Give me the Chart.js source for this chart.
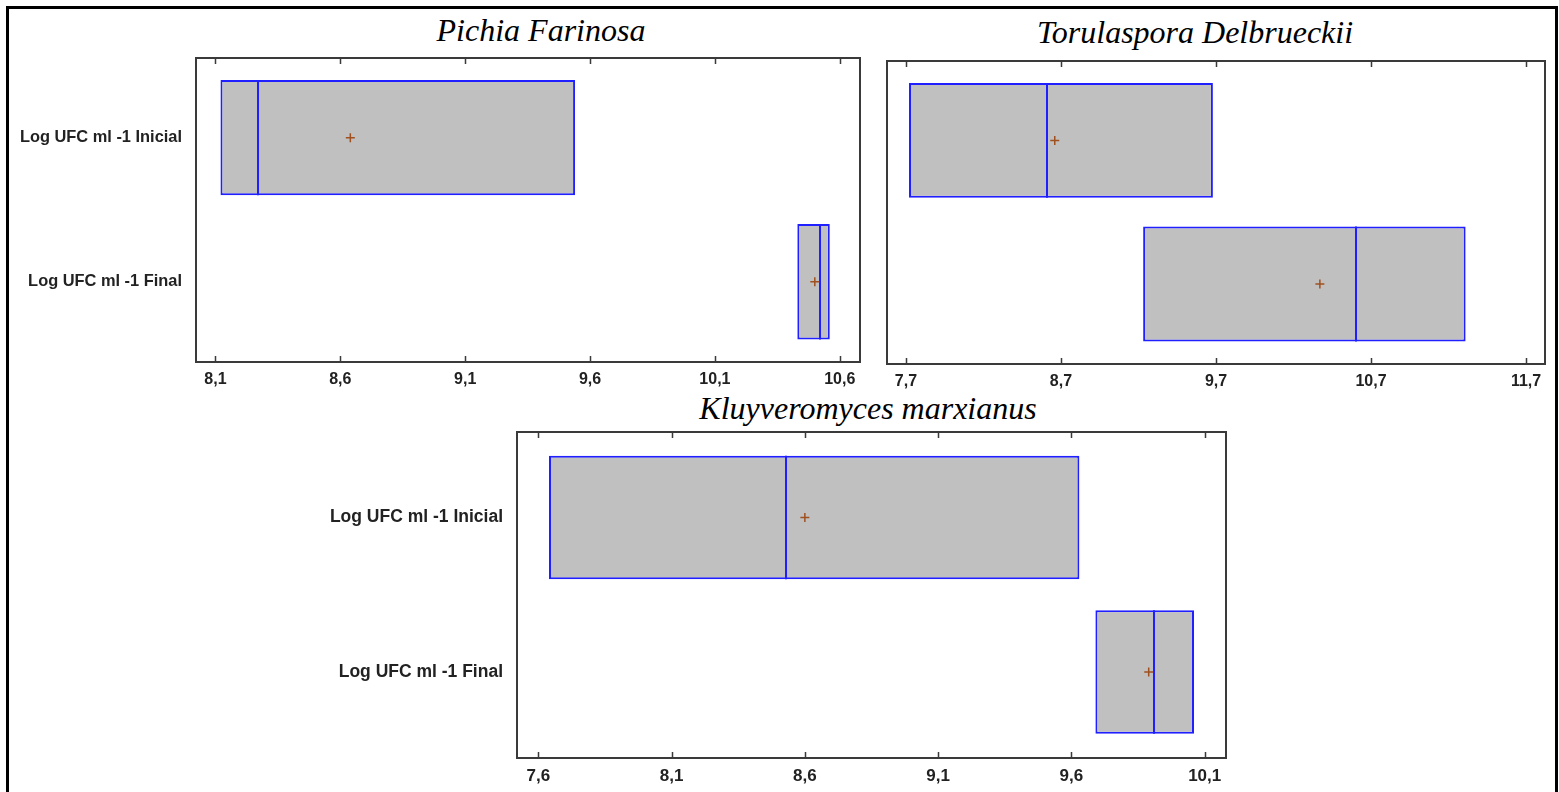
<!DOCTYPE html>
<html>
<head>
<meta charset="utf-8">
<title>Log UFC ml -1 — Inicial vs Final</title>
<script src="https://cdn.jsdelivr.net/npm/chart.js@4.4.1/dist/chart.umd.min.js"></script>
<style>
  html, body { margin: 0; padding: 0; background: #fff; }
  body { width: 1559px; height: 792px; position: relative; overflow: hidden; }
  .frame { position: absolute; left: 6px; top: 6px; width: 1552px; height: 820px;
           border: 3px solid #000; box-sizing: border-box; }
  .ttl { position: absolute; transform: translateX(-50%); white-space: nowrap;
         font-family: "Liberation Serif", "Times New Roman", serif; font-style: italic;
         font-size: 32px; line-height: 32px; color: #000; }
  canvas { position: absolute; }
</style>
</head>
<body>
<div class="frame"></div>
<div class="ttl" id="t1" style="left:541px; top:14px;">Pichia Farinosa</div>
<div class="ttl" id="t2" style="left:1195px; top:16px;">Torulaspora Delbrueckii</div>
<div class="ttl" id="t3" style="left:868px; top:392px;">Kluyveromyces marxianus</div>
<canvas id="c1"></canvas>
<canvas id="c2"></canvas>
<canvas id="c3"></canvas>
<script>
// Row labels (same two rows in every panel)
const rowLabels = ['Log UFC ml -1 Inicial', 'Log UFC ml -1 Final'];

// Pichia Farinosa: box (Q1, median, Q3) and mean per row
const pichiaQ1     = [8.12, 10.43];
const pichiaMedian = [8.27, 10.52];
const pichiaQ3     = [9.54, 10.56];
const pichiaMean   = [8.64, 10.50];
const pichiaTicks  = [8.1, 8.6, 9.1, 9.6, 10.1, 10.6];
const pichiaTickLabels = ['8,1', '8,6', '9,1', '9,6', '10,1', '10,6'];

// Torulaspora Delbrueckii
const torulaQ1     = [7.72, 9.23];
const torulaMedian = [8.61, 10.60];
const torulaQ3     = [9.68, 11.31];
const torulaMean   = [8.66, 10.37];
const torulaTicks  = [7.7, 8.7, 9.7, 10.7, 11.7];
const torulaTickLabels = ['7,7', '8,7', '9,7', '10,7', '11,7'];

// Kluyveromyces marxianus
const kluyQ1     = [7.64, 9.69];
const kluyMedian = [8.53, 9.91];
const kluyQ3     = [9.63, 10.06];
const kluyMean   = [8.60, 9.89];
const kluyTicks  = [7.6, 8.1, 8.6, 9.1, 9.6, 10.1];
const kluyTickLabels = ['7,6', '8,1', '8,6', '9,1', '9,6', '10,1'];

const BOX_FILL = '#c0c0c0';
const BOX_EDGE = '#1f1fff';
const MEAN_COLOR = '#a0501e';
const FRAME_COLOR = '#3a3a3a';
const TEXT_COLOR = '#222222';
const SANS = '"Liberation Sans", Arial, sans-serif';

// Median lines, plot frame and inward tick marks
const boxDecor = {
  id: 'boxDecor',
  afterDatasetDraw(chart, args) {
    if (args.meta.type !== 'bar') return;
    const med = chart.options.plugins.boxDecor.medians;
    const xs = chart.scales.x;
    const ctx = chart.ctx;
    ctx.save();
    ctx.strokeStyle = BOX_EDGE;
    ctx.lineWidth = 2;
    args.meta.data.forEach((bar, i) => {
      const p = bar.getProps(['y', 'height'], true);
      const px = Math.round(xs.getPixelForValue(med[i]));
      ctx.beginPath();
      ctx.moveTo(px, p.y - p.height / 2);
      ctx.lineTo(px, p.y + p.height / 2);
      ctx.stroke();
    });
    ctx.restore();
  },
  afterDraw(chart) {
    const a = chart.chartArea;
    const ctx = chart.ctx;
    const xs = chart.scales.x;
    ctx.save();
    ctx.strokeStyle = FRAME_COLOR;
    ctx.lineWidth = 2;
    ctx.strokeRect(a.left, a.top, a.right - a.left, a.bottom - a.top);
    ctx.lineWidth = 1.5;
    xs.ticks.forEach(t => {
      const px = Math.round(xs.getPixelForValue(t.value)) + 0.5;
      ctx.beginPath();
      ctx.moveTo(px, a.bottom); ctx.lineTo(px, a.bottom - 6);
      ctx.moveTo(px, a.top); ctx.lineTo(px, a.top + 6);
      ctx.stroke();
    });
    ctx.restore();
  }
};

function makePanel(id, rect, yAxisWidth, showRows, rowFont, tickFont, xRange, ticks, tickLabels, q1, med, q3, mean) {
  const pad = 30, padRight = 4, xAxisHeight = 34;
  const cv = document.getElementById(id);
  const w = (rect.R - rect.L) + yAxisWidth + padRight;
  const h = (rect.B - rect.T) + pad + xAxisHeight;
  cv.width = w; cv.height = h;
  cv.style.left = (rect.L - yAxisWidth) + 'px';
  cv.style.top = (rect.T - pad) + 'px';
  cv.style.width = w + 'px'; cv.style.height = h + 'px';

  const boxes = q1.map((v, i) => ({ y: i, x: [v, q3[i]] }));
  const means = mean.map((v, i) => ({ y: i, x: v }));

  return new Chart(cv, {
    type: 'bar',
    data: {
      datasets: [
        {
          type: 'scatter',
          data: means,
          pointStyle: 'cross',
          pointRadius: 4.5,
          pointBorderWidth: 1.5,
          borderColor: MEAN_COLOR,
          backgroundColor: MEAN_COLOR,
          order: 0
        },
        {
          type: 'bar',
          data: boxes,
          backgroundColor: BOX_FILL,
          borderColor: BOX_EDGE,
          borderWidth: 2,
          borderSkipped: false,
          barPercentage: 0.8,
          categoryPercentage: 1.0,
          order: 1
        }
      ]
    },
    options: {
      indexAxis: 'y',
      responsive: false,
      animation: false,
      layout: { padding: { top: pad, right: padRight, left: 0, bottom: 0 } },
      plugins: {
        legend: { display: false },
        tooltip: { enabled: false },
        title: { display: false },
        boxDecor: { medians: med }
      },
      scales: {
        x: {
          type: 'linear',
          position: 'bottom',
          min: xRange[0], max: xRange[1],
          offset: false,
          afterBuildTicks: s => { s.ticks = ticks.map(v => ({ value: v })); },
          afterFit: s => { s.height = xAxisHeight; },
          grid: { display: false, drawTicks: false },
          border: { display: false },
          ticks: {
            autoSkip: false, maxRotation: 0, padding: 8,
            color: TEXT_COLOR,
            font: { family: SANS, weight: 'bold', size: tickFont },
            callback: (v, i) => tickLabels[i]
          }
        },
        y: {
          type: 'linear',
          position: 'left',
          reverse: true,
          min: -0.553, max: 1.557,
          offset: false,
          afterBuildTicks: s => { s.ticks = [{ value: 0 }, { value: 1 }]; },
          afterFit: s => { s.width = yAxisWidth; },
          grid: { display: false, drawTicks: false },
          border: { display: false },
          ticks: {
            display: showRows,
            padding: 14,
            color: TEXT_COLOR,
            font: { family: SANS, weight: 'bold', size: rowFont },
            callback: (v, i) => rowLabels[i]
          }
        }
      }
    },
    plugins: [boxDecor]
  });
}

makePanel('c1', { L: 196, T: 58, R: 862, B: 362 }, 186, true, 16.4, 16, [8.022, 10.681],
  pichiaTicks, pichiaTickLabels, pichiaQ1, pichiaMedian, pichiaQ3, pichiaMean);
makePanel('c2', { L: 887, T: 61, R: 1547, B: 364 }, 8, false, 16.4, 16, [7.578, 11.822],
  torulaTicks, torulaTickLabels, torulaQ1, torulaMedian, torulaQ3, torulaMean);
makePanel('c3', { L: 517, T: 432, R: 1228, B: 758 }, 200, true, 17.5, 17, [7.520, 10.180],
  kluyTicks, kluyTickLabels, kluyQ1, kluyMedian, kluyQ3, kluyMean);
</script>
</body>
</html>
